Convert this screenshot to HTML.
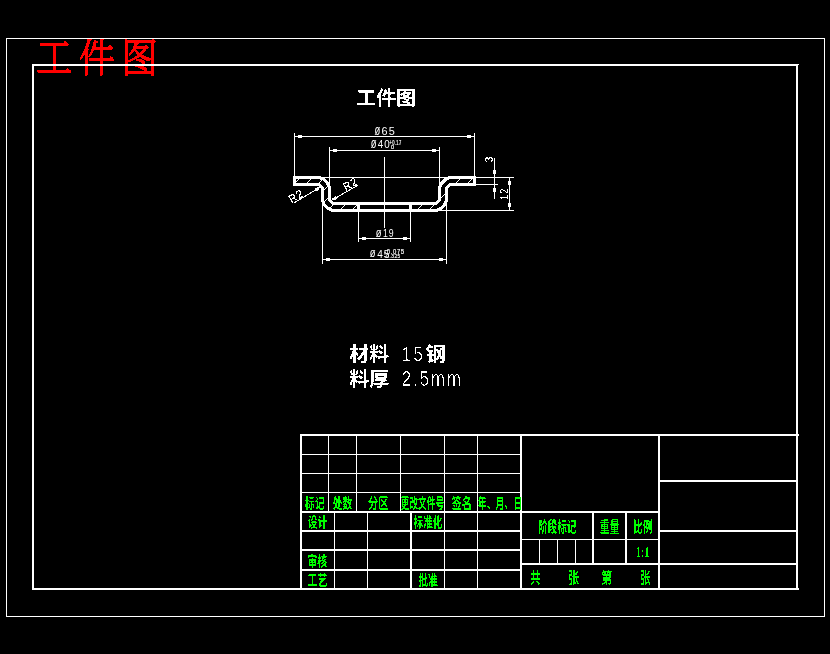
<!DOCTYPE html>
<html lang="zh-CN">
<head>
<meta charset="utf-8">
<title>工件图</title>
<style>
html,body{margin:0;padding:0;background:#000;overflow:hidden}
svg{display:block}
text{white-space:pre}
</style>
</head>
<body>
<svg width="830" height="654" viewBox="0 0 830 654">
<rect x="0" y="0" width="830" height="654" fill="#000"/>
<g id="titleblock" shape-rendering="crispEdges">
<rect x="300" y="434" width="499" height="2" fill="#fff"/>
<rect x="300" y="434" width="2" height="156" fill="#fff"/>
<rect x="520" y="434" width="2" height="156" fill="#fff"/>
<rect x="658" y="434" width="2" height="156" fill="#fff"/>
<rect x="300" y="511" width="360" height="2" fill="#fff"/>
<rect x="300" y="530" width="222" height="2" fill="#fff"/>
<rect x="300" y="549" width="222" height="2" fill="#fff"/>
<rect x="300" y="569" width="222" height="2" fill="#fff"/>
<rect x="658" y="480" width="140" height="2" fill="#fff"/>
<rect x="658" y="530" width="140" height="2" fill="#fff"/>
<rect x="520" y="563" width="278" height="2" fill="#fff"/>
<rect x="592" y="511" width="2" height="54" fill="#fff"/>
<rect x="625" y="511" width="2" height="54" fill="#fff"/>
<rect x="410" y="511" width="2" height="79" fill="#fff"/>
<rect x="300" y="454" width="221" height="1" fill="#fff"/>
<rect x="300" y="473" width="221" height="1" fill="#fff"/>
<rect x="300" y="492" width="221" height="1" fill="#fff"/>
<rect x="328" y="434" width="1" height="78" fill="#fff"/>
<rect x="356" y="434" width="1" height="78" fill="#fff"/>
<rect x="400" y="434" width="1" height="78" fill="#fff"/>
<rect x="444" y="434" width="1" height="156" fill="#fff"/>
<rect x="477" y="434" width="1" height="156" fill="#fff"/>
<rect x="334" y="511" width="1" height="79" fill="#fff"/>
<rect x="367" y="511" width="1" height="79" fill="#fff"/>
<rect x="520" y="539" width="140" height="1" fill="#fff"/>
<rect x="539" y="539" width="1" height="25" fill="#fff"/>
<rect x="557" y="539" width="1" height="25" fill="#fff"/>
<rect x="575" y="539" width="1" height="25" fill="#fff"/>
</g>
<g id="dims" shape-rendering="crispEdges">
<rect x="294" y="133" width="1" height="45" fill="#fff"/>
<rect x="474" y="133" width="1" height="45" fill="#fff"/>
<rect x="294" y="136" width="181" height="1" fill="#fff"/>
<rect x="329" y="147" width="1" height="44" fill="#fff"/>
<rect x="439" y="147" width="1" height="44" fill="#fff"/>
<rect x="329" y="150" width="111" height="1" fill="#fff"/>
<rect x="384" y="157" width="1" height="71" fill="#fff"/>
<rect x="358" y="203" width="1" height="39" fill="#fff"/>
<rect x="410" y="203" width="1" height="39" fill="#fff"/>
<rect x="358" y="238" width="53" height="1" fill="#fff"/>
<rect x="322" y="190" width="1" height="74" fill="#fff"/>
<rect x="446" y="190" width="1" height="74" fill="#fff"/>
<rect x="322" y="259" width="125" height="1" fill="#fff"/>
<rect x="294" y="177" width="220" height="1" fill="#fff"/>
<rect x="475" y="184" width="23" height="1" fill="#fff"/>
<rect x="436" y="210" width="78" height="1" fill="#fff"/>
<rect x="494" y="158" width="1" height="41" fill="#fff"/>
<rect x="509" y="177" width="1" height="34" fill="#fff"/>
</g>
<g id="arrows" shape-rendering="crispEdges">
<rect x="298" y="135" width="4" height="3" fill="#fff"/>
<rect x="467" y="135" width="4" height="3" fill="#fff"/>
<rect x="333" y="149" width="4" height="3" fill="#fff"/>
<rect x="432" y="149" width="4" height="3" fill="#fff"/>
<rect x="362" y="237" width="4" height="3" fill="#fff"/>
<rect x="403" y="237" width="4" height="3" fill="#fff"/>
<rect x="326" y="258" width="4" height="3" fill="#fff"/>
<rect x="439" y="258" width="4" height="3" fill="#fff"/>
<rect x="493" y="170" width="3" height="4" fill="#fff"/>
<rect x="493" y="188" width="3" height="4" fill="#fff"/>
<rect x="508" y="181" width="3" height="4" fill="#fff"/>
<rect x="508" y="203" width="3" height="4" fill="#fff"/>
</g>
<defs><clipPath id="sec"><path d="M294.50,177.5 L317.00,177.5 A12.5,12.5 0 0 1 329.50,190.0 L329.50,198.0 A5.5,5.5 0 0 0 335.00,203.5 L358.50,203.5 L358.50,210.5 L335.00,210.5 A12.5,12.5 0 0 1 322.50,198.0 L322.50,190.0 A5.5,5.5 0 0 0 317.00,184.5 L294.50,184.5 Z M474.50,177.5 L452.00,177.5 A12.5,12.5 0 0 0 439.50,190.0 L439.50,198.0 A5.5,5.5 0 0 1 434.00,203.5 L410.50,203.5 L410.50,210.5 L434.00,210.5 A12.5,12.5 0 0 0 446.50,198.0 L446.50,190.0 A5.5,5.5 0 0 1 452.00,184.5 L474.50,184.5 Z"/></clipPath></defs>
<path d="M263.0,215 L308.0,170 M275.0,215 L320.0,170 M287.0,215 L332.0,170 M299.0,215 L344.0,170 M311.0,215 L356.0,170 M323.0,215 L368.0,170 M335.0,215 L380.0,170 M347.0,215 L392.0,170 M359.0,215 L404.0,170 M371.0,215 L416.0,170 M388.2,215 L433.2,170 M400.2,215 L445.2,170 M412.2,215 L457.2,170 M424.2,215 L469.2,170 M436.2,215 L481.2,170 M448.2,215 L493.2,170 M460.2,215 L505.2,170 M472.2,215 L517.2,170 M484.2,215 L529.2,170" stroke="#fff" stroke-width="1" fill="none" clip-path="url(#sec)" shape-rendering="crispEdges"/>
<path d="M294.50,177.5 L317.00,177.5 A12.5,12.5 0 0 1 329.50,190.0 L329.50,198.0 A5.5,5.5 0 0 0 335.00,203.5 L358.50,203.5 L358.50,210.5 L335.00,210.5 A12.5,12.5 0 0 1 322.50,198.0 L322.50,190.0 A5.5,5.5 0 0 0 317.00,184.5 L294.50,184.5 Z M474.50,177.5 L452.00,177.5 A12.5,12.5 0 0 0 439.50,190.0 L439.50,198.0 A5.5,5.5 0 0 1 434.00,203.5 L410.50,203.5 L410.50,210.5 L434.00,210.5 A12.5,12.5 0 0 0 446.50,198.0 L446.50,190.0 A5.5,5.5 0 0 1 452.00,184.5 L474.50,184.5 Z M358.5,203.5 L410.5,203.5 M358.5,210.5 L410.5,210.5" stroke="#fff" stroke-width="3" fill="none" stroke-linejoin="round" shape-rendering="crispEdges"/>
<line x1="293.5" y1="203.3" x2="322" y2="186.2" stroke="#fff" stroke-width="1" shape-rendering="crispEdges"/>
<line x1="315.57" y1="190.06" x2="319.00" y2="188.00" stroke="#fff" stroke-width="3" shape-rendering="crispEdges"/>
<line x1="358" y1="185.1" x2="330" y2="201.3" stroke="#fff" stroke-width="1" shape-rendering="crispEdges"/>
<line x1="336.49" y1="197.54" x2="333.03" y2="199.55" stroke="#fff" stroke-width="3" shape-rendering="crispEdges"/>
<defs><filter id="crisp" x="0" y="0" width="830" height="654" filterUnits="userSpaceOnUse" color-interpolation-filters="sRGB"><feComponentTransfer><feFuncA type="discrete" tableValues="0 1"/></feComponentTransfer></filter><filter id="thin" x="0" y="0" width="830" height="654" filterUnits="userSpaceOnUse" color-interpolation-filters="sRGB"><feComponentTransfer><feFuncA type="discrete" tableValues="0 0 0 1"/></feComponentTransfer></filter><filter id="fat" x="0" y="0" width="830" height="654" filterUnits="userSpaceOnUse" color-interpolation-filters="sRGB"><feComponentTransfer><feFuncA type="discrete" tableValues="0 1 1"/></feComponentTransfer></filter><filter id="mid" x="0" y="0" width="830" height="654" filterUnits="userSpaceOnUse" color-interpolation-filters="sRGB"><feComponentTransfer><feFuncA type="discrete" tableValues="0 0 1 1 1"/></feComponentTransfer></filter><filter id="aa" x="0" y="0" width="830" height="654" filterUnits="userSpaceOnUse" color-interpolation-filters="sRGB"><feComponentTransfer><feFuncA type="gamma" amplitude="1" exponent="1.0" offset="0"/></feComponentTransfer></filter><filter id="aa2" x="0" y="0" width="830" height="654" filterUnits="userSpaceOnUse" color-interpolation-filters="sRGB"><feComponentTransfer><feFuncA type="gamma" amplitude="1" exponent="0.6" offset="0"/></feComponentTransfer></filter></defs>
<g class="texts" filter="url(#crisp)">
<text transform="translate(35.91 72.40) scale(0.907 1)" font-size="40.00" fill="#ff0000" style="font-family:'Liberation Serif','Noto Serif CJK SC',serif;font-weight:300;letter-spacing:0.18em;stroke:#ff0000;stroke-width:0.03em;">工件图</text>
</g>
<g id="frames" shape-rendering="crispEdges">
<rect x="6" y="38" width="819" height="1" fill="#fff"/>
<rect x="6" y="616" width="819" height="1" fill="#fff"/>
<rect x="6" y="38" width="1" height="579" fill="#fff"/>
<rect x="824" y="38" width="1" height="579" fill="#fff"/>
<rect x="32" y="64" width="766" height="2" fill="#fff"/>
<rect x="798" y="64" width="1" height="1" fill="#fff"/>
<rect x="32" y="588" width="767" height="2" fill="#fff"/>
<rect x="32" y="64" width="2" height="526" fill="#fff"/>
<rect x="796" y="64" width="2" height="526" fill="#fff"/>
</g>
<g class="texts" filter="url(#crisp)">
<text transform="translate(304.80 507.65) scale(0.738 1)" font-size="13.54" fill="#00ff00" style="font-family:'Liberation Sans','Noto Sans CJK SC',sans-serif;font-weight:700;">标记</text>
<text transform="translate(332.71 507.65) scale(0.720 1)" font-size="13.54" fill="#00ff00" style="font-family:'Liberation Sans','Noto Sans CJK SC',sans-serif;font-weight:700;">处数</text>
<text transform="translate(367.89 507.74) scale(0.734 1)" font-size="13.98" fill="#00ff00" style="font-family:'Liberation Sans','Noto Sans CJK SC',sans-serif;font-weight:700;">分区</text>
<text transform="translate(400.65 507.66) scale(0.650 1)" font-size="13.40" fill="#00ff00" style="font-family:'Liberation Sans','Noto Sans CJK SC',sans-serif;font-weight:700;">更改文件号</text>
<text transform="translate(451.39 507.77) scale(0.751 1)" font-size="13.68" fill="#00ff00" style="font-family:'Liberation Sans','Noto Sans CJK SC',sans-serif;font-weight:700;">签名</text>
<text transform="translate(477.84 507.65) scale(0.657 1)" font-size="13.54" fill="#00ff00" style="font-family:'Liberation Sans','Noto Sans CJK SC',sans-serif;font-weight:700;">年、月、日</text>
<text transform="translate(307.71 526.63) scale(0.716 1)" font-size="13.68" fill="#00ff00" style="font-family:'Liberation Sans','Noto Sans CJK SC',sans-serif;font-weight:700;">设计</text>
<text transform="translate(413.61 526.65) scale(0.706 1)" font-size="13.54" fill="#00ff00" style="font-family:'Liberation Sans','Noto Sans CJK SC',sans-serif;font-weight:700;">标准化</text>
<text transform="translate(307.30 565.78) scale(0.735 1)" font-size="13.54" fill="#00ff00" style="font-family:'Liberation Sans','Noto Sans CJK SC',sans-serif;font-weight:700;">审核</text>
<text transform="translate(307.60 585.02) scale(0.712 1)" font-size="13.98" fill="#00ff00" style="font-family:'Liberation Sans','Noto Sans CJK SC',sans-serif;font-weight:700;">工艺</text>
<text transform="translate(418.21 584.65) scale(0.723 1)" font-size="13.54" fill="#00ff00" style="font-family:'Liberation Sans','Noto Sans CJK SC',sans-serif;font-weight:700;">批准</text>
<text transform="translate(538.03 531.57) scale(0.672 1)" font-size="14.27" fill="#00ff00" style="font-family:'Liberation Sans','Noto Sans CJK SC',sans-serif;font-weight:700;">阶段标记</text>
<text transform="translate(599.80 531.50) scale(0.690 1)" font-size="14.35" fill="#00ff00" style="font-family:'Liberation Sans','Noto Sans CJK SC',sans-serif;font-weight:700;">重量</text>
<text transform="translate(633.22 531.69) scale(0.664 1)" font-size="14.57" fill="#00ff00" style="font-family:'Liberation Sans','Noto Sans CJK SC',sans-serif;font-weight:700;">比例</text>
<text transform="translate(530.19 582.66) scale(0.693 1)" font-size="14.89" fill="#00ff00" style="font-family:'Liberation Sans','Noto Sans CJK SC',sans-serif;font-weight:700;">共</text>
<text transform="translate(568.14 582.51) scale(0.730 1)" font-size="14.89" fill="#00ff00" style="font-family:'Liberation Sans','Noto Sans CJK SC',sans-serif;font-weight:700;">张</text>
<text transform="translate(601.36 582.54) scale(0.759 1)" font-size="14.58" fill="#00ff00" style="font-family:'Liberation Sans','Noto Sans CJK SC',sans-serif;font-weight:700;">第</text>
<text transform="translate(640.18 582.51) scale(0.693 1)" font-size="14.89" fill="#00ff00" style="font-family:'Liberation Sans','Noto Sans CJK SC',sans-serif;font-weight:700;">张</text>
<text transform="translate(356.20 105.07) scale(1.036 1)" font-size="19.26" fill="#fff" style="font-family:'Liberation Sans','Noto Sans CJK SC',sans-serif;font-weight:700;">工件图</text>
<text transform="translate(349.30 360.69) scale(1.047 1)" font-size="18.95" fill="#fff" style="font-family:'Liberation Sans','Noto Sans CJK SC',sans-serif;font-weight:700;">材料</text>
<text transform="translate(425.60 360.68) scale(1.056 1)" font-size="19.15" fill="#fff" style="font-family:'Liberation Sans','Noto Sans CJK SC',sans-serif;font-weight:700;">钢</text>
<text transform="translate(349.30 386.49) scale(1.058 1)" font-size="18.95" fill="#fff" style="font-family:'Liberation Sans','Noto Sans CJK SC',sans-serif;font-weight:700;">料厚</text>
</g>
<g class="texts" filter="url(#thin)">
<text transform="translate(401.38 360.59) scale(0.828 1)" font-size="21.14" fill="#fff" style="font-family:'Liberation Sans','Noto Sans CJK SC',sans-serif;font-weight:400;letter-spacing:0.12em;">15</text>
<text transform="translate(401.76 386.18) scale(0.771 1)" font-size="21.69" fill="#fff" style="font-family:'Liberation Sans','Noto Sans CJK SC',sans-serif;font-weight:400;letter-spacing:0.12em;">2.5mm</text>
</g>
<g class="texts" filter="url(#fat)">
<text transform="translate(635.81 557.05) scale(0.735 1)" font-size="14.93" fill="#00ff00" style="font-family:'Liberation Serif','Noto Serif CJK SC',serif;font-weight:400;">1:1</text>
</g>
<g class="texts" filter="url(#mid)">
<text transform="rotate(-90 489.00 159.50) translate(486.07 163.39) scale(0.944 1)" font-size="11.27" fill="#fff" style="font-family:'Liberation Sans','Noto Sans CJK SC',sans-serif;font-weight:400;">3</text>
<text transform="rotate(-90 504.50 194.00) translate(498.86 197.75) scale(0.856 1)" font-size="10.71" fill="#fff" style="font-family:'Liberation Sans','Noto Sans CJK SC',sans-serif;font-weight:400;letter-spacing:0.1em;">12</text>
<text transform="rotate(-31 296.00 196.30) translate(288.67 200.30) scale(0.910 1)" font-size="11.43" fill="#fff" style="font-family:'Liberation Sans','Noto Sans CJK SC',sans-serif;font-weight:400;letter-spacing:0.1em;">R2</text>
<text transform="rotate(-30 350.30 184.00) translate(342.97 188.00) scale(0.910 1)" font-size="11.43" fill="#fff" style="font-family:'Liberation Sans','Noto Sans CJK SC',sans-serif;font-weight:400;letter-spacing:0.1em;">R2</text>
</g>
<g class="texts" filter="url(#aa)">
<text transform="translate(374.61 134.72) scale(0.675 1)" font-size="14.04" fill="#fff" style="font-family:'Liberation Sans','Noto Sans CJK SC',sans-serif;font-weight:400;">ø</text>
<text transform="translate(381.56 134.89) scale(0.967 1)" font-size="11.27" fill="#fff" style="font-family:'Liberation Sans','Noto Sans CJK SC',sans-serif;font-weight:400;letter-spacing:0.1em;">65</text>
<text transform="translate(370.81 148.02) scale(0.675 1)" font-size="14.04" fill="#fff" style="font-family:'Liberation Sans','Noto Sans CJK SC',sans-serif;font-weight:400;">ø</text>
<text transform="translate(377.80 148.19) scale(0.872 1)" font-size="11.27" fill="#fff" style="font-family:'Liberation Sans','Noto Sans CJK SC',sans-serif;font-weight:400;letter-spacing:0.1em;">40</text>
<text transform="translate(375.81 236.64) scale(0.720 1)" font-size="13.16" fill="#fff" style="font-family:'Liberation Sans','Noto Sans CJK SC',sans-serif;font-weight:400;">ø</text>
<text transform="translate(382.99 236.79) scale(0.826 1)" font-size="10.56" fill="#fff" style="font-family:'Liberation Sans','Noto Sans CJK SC',sans-serif;font-weight:400;letter-spacing:0.1em;">19</text>
<text transform="translate(369.81 257.43) scale(0.701 1)" font-size="13.51" fill="#fff" style="font-family:'Liberation Sans','Noto Sans CJK SC',sans-serif;font-weight:400;">ø</text>
<text transform="translate(377.20 257.59) scale(0.930 1)" font-size="10.85" fill="#fff" style="font-family:'Liberation Sans','Noto Sans CJK SC',sans-serif;font-weight:400;letter-spacing:0.1em;">45</text>
</g>
<g class="texts" filter="url(#aa2)">
<text transform="translate(389.40 145.23) scale(0.572 1)" font-size="7.04" fill="#fff" style="font-family:'Liberation Sans','Noto Sans CJK SC',sans-serif;font-weight:400;letter-spacing:0.1em;">+0.17</text>
<text transform="translate(390.75 148.55) scale(1.387 1)" font-size="4.51" fill="#fff" style="font-family:'Liberation Sans','Noto Sans CJK SC',sans-serif;font-weight:400;letter-spacing:0.1em;">0</text>
<text transform="translate(384.26 254.23) scale(0.801 1)" font-size="7.46" fill="#fff" style="font-family:'Liberation Sans','Noto Sans CJK SC',sans-serif;font-weight:400;letter-spacing:0.1em;">-0.075</text>
<text transform="translate(384.31 257.74) scale(0.804 1)" font-size="5.92" fill="#fff" style="font-family:'Liberation Sans','Noto Sans CJK SC',sans-serif;font-weight:400;letter-spacing:0.1em;">-0.325</text>
</g>
</svg>
</body>
</html>
